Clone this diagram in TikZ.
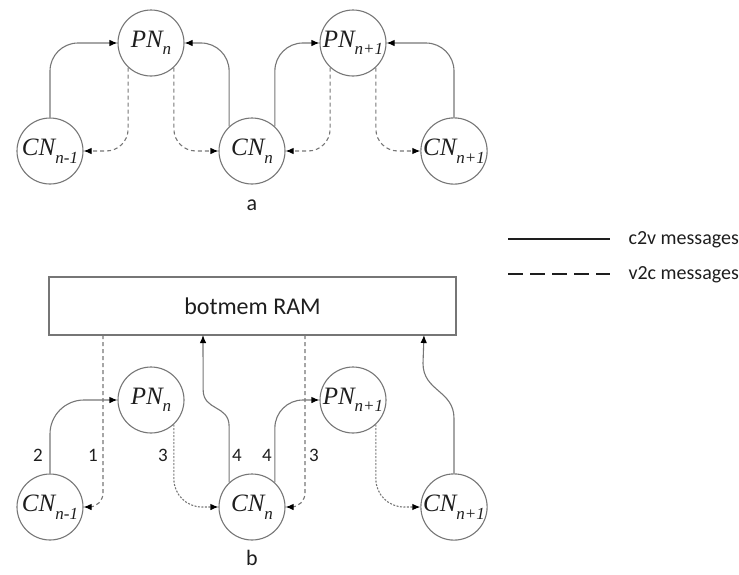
\documentclass[tikz,border=0pt]{standalone}
\usepackage{fontspec}
\setmainfont{Carlito}
\newfontfamily\nodefont{Liberation Serif}
\usetikzlibrary{arrows.meta}

\definecolor{linegray}{RGB}{118,118,118}
\definecolor{textblack}{RGB}{30,30,30}

% node name with a lowered index
\newcommand{\nd}[2]{{\nodefont\itshape #1\raisebox{-0.3em}{\fontsize{17}{17}\selectfont #2}}}

\tikzset{
  nodecirc/.style={circle, draw=linegray, line width=1.1pt, minimum size=66pt, inner sep=0pt,
    font=\fontsize{25}{25}\selectfont, text=textblack},
  c2v/.style={draw=linegray, line width=1.1pt, rounded corners=28pt,
    -{Latex[black,length=8pt,width=6.5pt]}},
  v2c/.style={c2v, dash pattern=on 4pt off 3pt},
  v2cfine/.style={c2v, dash pattern=on 2pt off 1.5pt},
  numlab/.style={font=\fontsize{19}{19}\selectfont, text=textblack},
  leglab/.style={font=\fontsize{20}{20}\selectfont, text=textblack, anchor=west},
}

\begin{document}
\begin{tikzpicture}[x=1pt,y=-1pt]
        \useasboundingbox (0,0) rectangle (739,574);
        % part a
        \node[nodecirc] (pa) at (151,43) {\nd{PN}{n}};
        \node[nodecirc] (pb) at (353,43) {\nd{PN}{n+1}};
        \node[nodecirc] (ca) at (50,151) {\nd{CN}{n-1}};
        \node[nodecirc] (cb) at (252,151) {\nd{CN}{n}};
        \node[nodecirc] (cc) at (454,151) {\nd{CN}{n+1}};
        \draw[c2v] (ca.north) |- (pa.west);
        \draw[v2c, rounded corners=22pt] (pa.227) |- (ca.east);
        \draw[v2c, rounded corners=22pt] (pa.313) |- (cb.west);
        \draw[c2v] (cb.133) |- (pa.east);
        \draw[c2v] (cb.47) |- (pb.west);
        \draw[v2c, rounded corners=22pt] (pb.227) |- (cb.east);
        \draw[v2c, rounded corners=22pt] (pb.313) |- (cc.west);
        \draw[c2v] (cc.north) |- (pb.east);
        \node[font=\fontsize{22}{22}\selectfont, text=textblack] (la) at (252,205) {a};
        % legend
        \coordinate (s1) at (508,239);
        \coordinate (s2) at (610,239);
        \coordinate (d1) at (508,274);
        \coordinate (d2) at (610,274);
        \draw[textblack, line width=1.6pt] (s1) -- (s2);
        \draw[textblack, line width=1.6pt, dash pattern=on 15pt off 7pt] (d1) -- (d2);
        \node[leglab] (lc) at (625,240) {c2v messages};
        \node[leglab] (lv) at (625,275) {v2c messages};
        % part b
        \node[draw=linegray, line width=1.1pt, minimum width=407pt, minimum height=58pt,
          font=\fontsize{24}{24}\selectfont, text=textblack] (ram) at (252.5,306) {botmem RAM};
        \node[nodecirc] (pa2) at (151,400) {\nd{PN}{n}};
        \node[nodecirc] (pb2) at (353,400) {\nd{PN}{n+1}};
        \node[nodecirc] (ca2) at (50,507) {\nd{CN}{n-1}};
        \node[nodecirc] (cb2) at (252,507) {\nd{CN}{n}};
        \node[nodecirc] (cc2) at (454,507) {\nd{CN}{n+1}};
        \coordinate (r1) at (103,335);
        \coordinate (r2) at (203,335);
        \coordinate (r3) at (305,335);
        \coordinate (r4) at (424,335);
        \draw[v2c, rounded corners=14pt] (r1) |- (ca2.east);
        \draw[c2v, rounded corners=34pt] (ca2.north) |- (pa2.west);
        \draw[v2cfine] (pa2.313) |- (cb2.west);
        \draw[c2v, sharp corners] (cb2.133) -- ++(0,-56)
          .. controls +(0,-22) and +(0,22) .. ++(-26,-37) -- (r2);
        \draw[c2v] (cb2.47) |- (pb2.west);
        \draw[v2c, rounded corners=14pt] (r3) |- (cb2.east);
        \draw[v2cfine] (pb2.313) |- (cc2.west);
        \draw[c2v, sharp corners] (cc2.north) -- ++(0,-55)
          .. controls +(0,-28) and +(0,28) .. ++(-31,-55) -- (r4);
        \node[numlab] (n2) at (38,455) {2};
        \node[numlab] (n1) at (93,455) {1};
        \node[numlab] (n3) at (163,455) {3};
        \node[numlab] (n4) at (237,455) {4};
        \node[numlab] (n5) at (267,455) {4};
        \node[numlab] (n6) at (314,455) {3};
        \node[font=\fontsize{22}{22}\selectfont, text=textblack] (lb) at (252,558) {b};
\end{tikzpicture}
\end{document}
